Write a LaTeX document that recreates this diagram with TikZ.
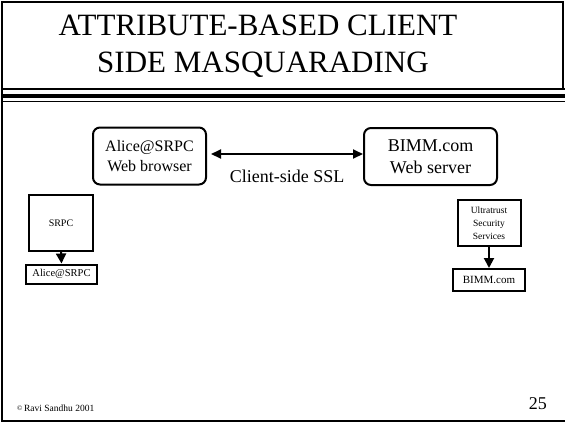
\documentclass[tikz,border=0pt]{standalone}
\usepackage{fontspec}
\setmainfont{Liberation Serif}
\usetikzlibrary{arrows.meta}
\newcommand{\fsz}[2]{\fontsize{#1}{#2}\selectfont}
\tikzset{
  frameline/.style={line width=2pt},
  bigbox/.style={draw, line width=2pt, rounded corners=7pt, align=center, inner sep=0pt},
  smallbox/.style={draw, line width=2pt, align=center, inner sep=0pt},
  linkarrow/.style={line width=2pt, {Triangle[length=10pt,width=9pt]}-{Triangle[length=10pt,width=9pt]}},
  downarrow/.style={line width=2pt, -{Triangle[length=10pt,width=10pt]}},
}
\begin{document}
\begin{tikzpicture}[x=1pt, y=-1pt]
\useasboundingbox (0,0) rectangle (565,424);
% slide frame
\draw[frameline] (563,2) -- (2,2) -- (2,421) -- (565,421);
\draw[frameline] (563,1) -- (563,89);
% rules under the heading
\draw[line width=1.5pt] (3,89) -- (565,89);
\draw[line width=3.6pt] (3,96) -- (565,96);
\draw[line width=1.5pt] (3,101.5) -- (565,101.5);
% heading
\node[anchor=base, font=\fsz{31}{37}] (title1) at (258,35) {ATTRIBUTE-BASED CLIENT};
\node[anchor=base, font=\fsz{31}{37}] (title2) at (263,72) {SIDE MASQUARADING};
% browser and server
\node[bigbox, minimum width=113pt, minimum height=57pt, font=\fsz{16}{20}] (alice) at (149.5,156) {Alice@SRPC\\Web browser};
\node[bigbox, minimum width=133pt, minimum height=57pt, font=\fsz{18}{22}] (bimm) at (430.5,156.5) {BIMM.com\\Web server};
\draw[linkarrow] ([xshift=4pt,yshift=2pt]alice.east) -- ([yshift=2.5pt]bimm.west)
  node[midway, yshift=-22pt, font=\fsz{18}{22}] (ssl) {Client-side SSL};
% client side attribute chain
\node[smallbox, minimum width=64pt, minimum height=56pt, font=\fsz{10}{12}] (srpc) at (61,223) {SRPC};
\node[smallbox, minimum width=71pt, minimum height=19pt, font=\fsz{10.5}{12}] (alicecert) at (61.5,274) {Alice@SRPC};
\draw[downarrow] (srpc.south) -- (alicecert.north);
% server side attribute chain
\node[smallbox, minimum width=63pt, minimum height=46pt, font=\fsz{9.5}{13}] (ultra) at (489,223) {Ultratrust\\Security\\Services};
\node[smallbox, minimum width=72pt, minimum height=22pt, font=\fsz{11}{13}] (bimmcert) at (489,280) {BIMM.com};
\draw[downarrow] (ultra.south) -- (bimmcert.north);
% footer
\node[anchor=base west, font=\fsz{9.5}{11}, inner sep=0pt] (copy) at (17,411) {\raisebox{1pt}{\fsz{7}{8}©}\,Ravi Sandhu 2001};
\node[anchor=base east, font=\fsz{18}{20}, inner sep=0pt] (page) at (547,409) {25};
\end{tikzpicture}
\end{document}
